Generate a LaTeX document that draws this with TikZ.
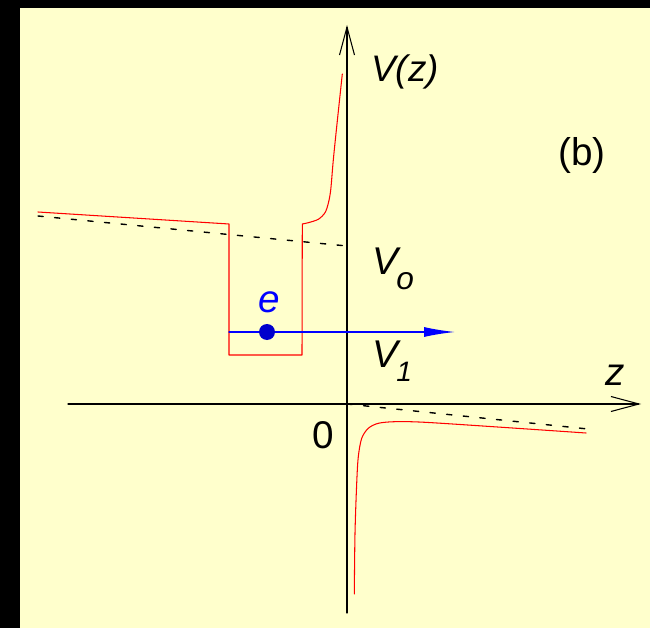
\documentclass[tikz,border=0pt]{standalone}
\usepackage{fontspec}
\setmainfont{Liberation Sans}
\usetikzlibrary{arrows.meta}
\definecolor{bgyellow}{RGB}{255,255,204}
\definecolor{dotblue}{RGB}{0,0,204}

\begin{document}
\begin{tikzpicture}[>={Straight Barb[length=5.6mm,width=3mm]}, font=\fontsize{22}{26}\selectfont, line join=round, line cap=round,
    pot/.style={red,line width=0.6pt},
    asym/.style={black,line width=0.8pt,dash pattern=on 3pt off 6.5pt},
    lbl/.style={inner sep=0pt,anchor=base west}]
        \def\xmin{-5.58} \def\xmax{5.88} \def\ymin{-4.18} \def\ymax{7.58}
        % frame
        \fill[black] (-6.94,-4.48) rectangle (6.06,8.08);
        \fill[bgyellow] (-6.54,-4.48) rectangle (6.06,7.92);
        % axes
        \coordinate (xa) at (\xmin,0); \coordinate (xb) at (\xmax,0);
        \coordinate (ya) at (0,\ymin); \coordinate (yb) at (0,\ymax);
        \draw[->,line width=0.6pt] (xa)--(xb);
        \draw[->,line width=0.6pt] (ya)--(yb);
        \node[lbl] (vz) at (0.48,6.44) {\fontsize{21}{26}\selectfont\itshape V(z)};
        \node[lbl] (tag) at (4.22,4.76) {(b)};
        \node[lbl] (zl) at (5.16,0.38) {\itshape z};
        \node[lbl] (orig) at (-0.7,-0.88) {0};
        \node[lbl] (vo) at (0.5,2.58) {\itshape V\kern-1pt\raisebox{-8.5pt}{\fontsize{18}{20}\selectfont o}};
        \node[lbl] (vone) at (0.5,0.74) {\itshape V\kern-1pt\raisebox{-8.5pt}{\fontsize{16}{20}\selectfont 1}};
        % field lines
        \draw[asym] (-6.18,3.76) -- (0,3.16);
        \draw[asym] (0,0) -- (4.82,-0.5);
        % potential
        \draw[pot] (-6.18,3.84) -- (-2.36,3.6) -- (-2.36,0.98) -- (-0.9,0.98) -- plot[smooth,tension=0.5] coordinates {(-0.894,3.6) (-0.774,3.626) (-0.574,3.694) (-0.44,3.826) (-0.374,4.014) (-0.326,4.28) (-0.274,4.88) (-0.206,5.546) (-0.094,6.6)};
        \draw[pot] plot[smooth,tension=0.5] coordinates {(0.146,-3.8) (0.16,-2.586) (0.194,-1.586) (0.226,-1.054) (0.294,-0.686) (0.426,-0.486) (0.626,-0.386) (0.96,-0.354) (1.56,-0.366) (3.16,-0.47) (4.78,-0.58)};
        % electron
        \coordinate (ea) at (-2.36,1.44); \coordinate (eb) at (2.16,1.44);
        \draw[blue,line width=0.8pt,-{Latex[length=6.2mm,width=2mm]}] (ea)--(eb);
        \node[circle,fill=dotblue,inner sep=0pt,minimum size=3.2mm] (dot) at (-1.6,1.44) {};
        \node[lbl,text=blue] (el) at (-1.78,1.84) {\itshape e};
\end{tikzpicture}
\end{document}
